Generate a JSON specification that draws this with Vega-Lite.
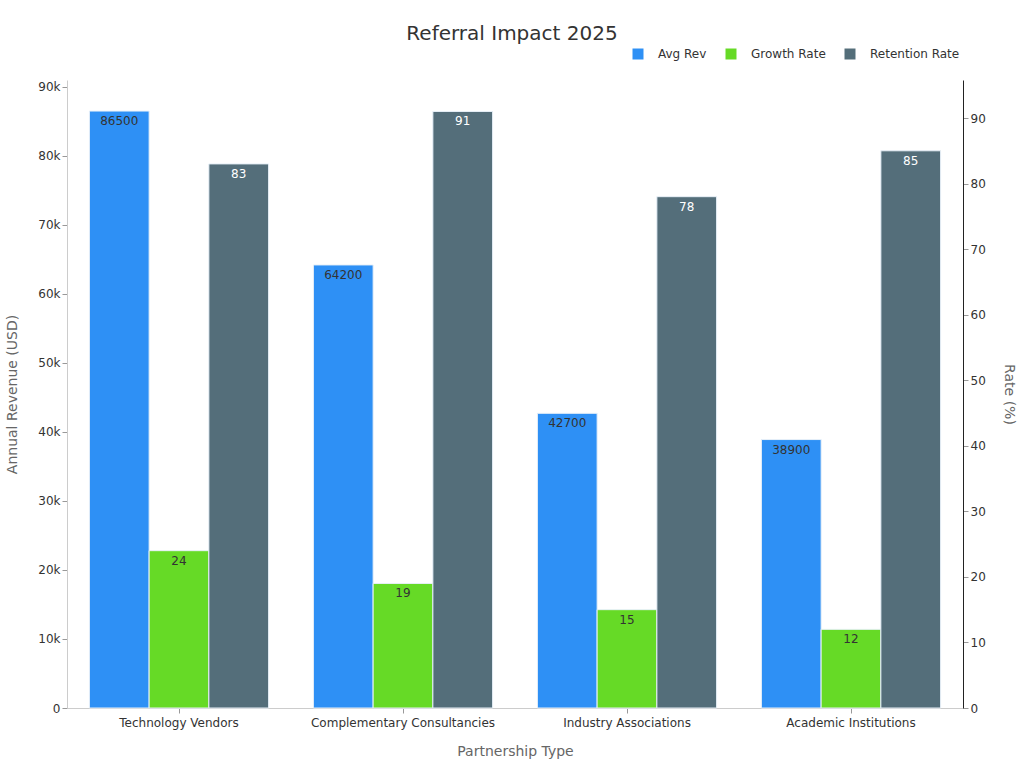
{
  "$schema": "https://vega.github.io/schema/vega-lite/v6.json",
  "width": 896,
  "height": 628,
  "autosize": {"type": "none"},
  "padding": {"left": 67, "top": 80, "right": 61, "bottom": 60},
  "background": "white",
  "config": {
    "font": "DejaVu Sans",
    "view": {"stroke": null},
    "axis": {"grid": false, "labelColor": "#333", "labelFontSize": 12, "titleColor": "#666", "titleFontSize": 14, "titleFontWeight": "normal", "tickColor": "#999", "domainColor": "#ccc"}
  },
  "title": {"text": "Referral Impact 2025", "fontSize": 20, "fontWeight": "normal", "color": "#333", "anchor": "middle", "frame": "group", "offset": 4, "dx": -3},
  "data": {"values": [
    {"type": "Technology Vendors", "series": "Avg Rev", "value": 86500},
    {"type": "Technology Vendors", "series": "Growth Rate", "value": 24},
    {"type": "Technology Vendors", "series": "Retention Rate", "value": 83},
    {"type": "Complementary Consultancies", "series": "Avg Rev", "value": 64200},
    {"type": "Complementary Consultancies", "series": "Growth Rate", "value": 19},
    {"type": "Complementary Consultancies", "series": "Retention Rate", "value": 91},
    {"type": "Industry Associations", "series": "Avg Rev", "value": 42700},
    {"type": "Industry Associations", "series": "Growth Rate", "value": 15},
    {"type": "Industry Associations", "series": "Retention Rate", "value": 78},
    {"type": "Academic Institutions", "series": "Avg Rev", "value": 38900},
    {"type": "Academic Institutions", "series": "Growth Rate", "value": 12},
    {"type": "Academic Institutions", "series": "Retention Rate", "value": 85}
  ]},
  "encoding": {
    "x": {"field": "type", "type": "nominal", "sort": ["Technology Vendors", "Complementary Consultancies", "Industry Associations", "Academic Institutions"],
      "scale": {"paddingInner": 0.2, "paddingOuter": 0.1},
      "axis": {"title": "Partnership Type", "labelAngle": 0, "titlePadding": 16, "labelPadding": 4, "labelLimit": 400}},
    "xOffset": {"field": "series", "type": "nominal", "scale": {"domain": ["Avg Rev", "Growth Rate", "Retention Rate"], "paddingInner": 0, "paddingOuter": 0}}
  },
  "layer": [
    {
      "transform": [{"filter": "datum.series === 'Avg Rev'"}],
      "encoding": {
        "y": {"field": "value", "type": "quantitative", "scale": {"domain": [0, 91000], "nice": false},
          "axis": {"title": "Annual Revenue (USD)", "labelExpr": "datum.value === 0 ? '0' : format(datum.value / 1000, 'd') + 'k'", "values": [0,10000,20000,30000,40000,50000,60000,70000,80000,90000], "titlePadding": 18}}
      },
      "layer": [
        {"mark": {"type": "bar", "stroke": "#e8f0f8", "strokeWidth": 1},
         "encoding": {"color": {"field": "series", "type": "nominal",
           "scale": {"domain": ["Avg Rev", "Growth Rate", "Retention Rate"], "range": ["#2E90F5", "#66DA26", "#546E7A"]},
           "legend": {"title": null, "orient": "none", "legendX": 565, "legendY": -32, "direction": "horizontal", "symbolType": "square", "symbolSize": 121, "labelFontSize": 12, "labelColor": "#333", "labelOffset": 14, "columnPadding": 18, "symbolOpacity": 1, "symbolStrokeWidth": 0}}}},
        {"mark": {"type": "text", "baseline": "top", "dy": 5, "fontSize": 12, "color": "#333"},
         "encoding": {"text": {"field": "value", "type": "quantitative", "format": "d"}}}
      ]
    },
    {
      "transform": [{"filter": "datum.series !== 'Avg Rev'"}],
      "encoding": {
        "y": {"field": "value", "type": "quantitative", "scale": {"domain": [0, 95.8], "nice": false},
          "axis": {"title": "Rate (%)", "orient": "right", "values": [0,10,20,30,40,50,60,70,80,90], "domainColor": "#222", "titlePadding": 16}}
      },
      "layer": [
        {"mark": {"type": "bar", "stroke": "#e8f0f8", "strokeWidth": 1},
         "encoding": {"color": {"field": "series", "type": "nominal",
           "scale": {"domain": ["Avg Rev", "Growth Rate", "Retention Rate"], "range": ["#2E90F5", "#66DA26", "#546E7A"]}}}},
        {"mark": {"type": "text", "baseline": "top", "dy": 5, "fontSize": 12},
         "encoding": {"text": {"field": "value", "type": "quantitative", "format": "d"},
           "color": {"condition": {"test": "datum.series === 'Retention Rate'", "value": "#ffffff"}, "value": "#333333"}}}
      ]
    }
  ],
  "resolve": {"scale": {"y": "independent"}}
}
